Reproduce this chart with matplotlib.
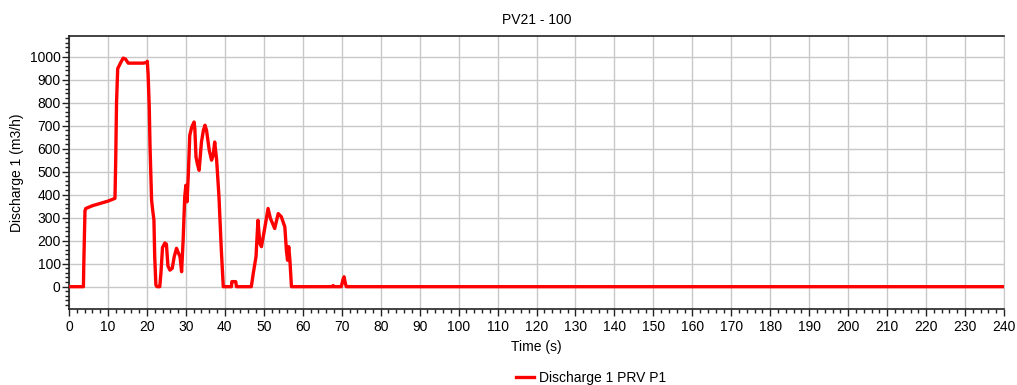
import numpy as np
import matplotlib as mpl
mpl.use('Agg')
import matplotlib.pyplot as plt
from matplotlib.ticker import MultipleLocator

plt.rcParams['font.family'] = ['Liberation Sans', 'DejaVu Sans']

# discharge trace (time s, discharge m3/h)
time_s = [0, 3.7, 3.8, 4.1, 4.3, 6.0, 8.0, 10.0, 11.8, 12.0, 12.2, 12.5, 13.3, 13.9,
          14.5, 15.2, 17.0, 19.0, 20.0, 20.1, 20.3, 20.6, 20.8, 21.2, 21.5, 21.8,
          22.0, 22.3, 22.6, 23.3, 23.6, 24.0, 24.6, 25.0, 25.4, 25.9, 26.5, 27.0,
          27.6, 28.0, 28.5, 28.9, 29.3, 29.7, 30.0, 30.3, 30.6, 31.0, 31.5, 32.1,
          32.3, 32.6, 33.0, 33.4, 34.0, 34.5, 34.9, 35.3, 36.0, 36.6, 37.0, 37.4,
          37.9, 38.5, 39.1, 39.6, 41.7, 41.8, 42.8, 43.0, 46.8, 47.3, 48.0, 48.5,
          49.0, 49.4, 50.3, 51.1, 51.7, 52.8, 53.7, 54.5, 55.4, 55.8, 56.1, 56.4,
          56.7, 57.1, 67.6, 67.8, 68.0, 69.9, 70.3, 70.6, 71.0, 71.2, 240]
discharge = [0, 0, 100, 330, 340, 352, 362, 372, 384, 560, 800, 948, 975, 994,
             990, 972, 972, 972, 975, 980, 926, 781, 608, 376, 330, 290,
             130, 7, 0, 0, 60, 170, 190, 185, 90, 72, 80, 130,
             167, 150, 130, 65, 203, 390, 441, 369, 477, 658, 694, 716,
             687, 564, 530, 506, 629, 680, 702, 680, 593, 550, 571, 629,
             550, 390, 159, 0, 0, 22, 22, 0, 0, 58, 130, 289,
             188, 174, 260, 340, 297, 253, 318, 304, 260, 159, 115, 174,
             116, 0, 0, 5, 0, 0, 30, 43, 10, 0, 0]

title = 'PV21 - 100'
x_label = 'Time (s)'
y_label = 'Discharge 1 (m3/h)'
series_name = 'Discharge 1 PRV P1'

fig = plt.figure(figsize=(10.17, 3.85), dpi=100)
ax = fig.add_axes([69/1017, 1-309/385, 935/1017, 273/385])

ax.plot(time_s, discharge, color='#ff0000', lw=2.4, label=series_name,
        solid_joinstyle='round', zorder=3)

ax.set_xlim(0, 240)
ax.set_ylim(-97, 1090)
ax.xaxis.set_major_locator(MultipleLocator(10))
ax.xaxis.set_minor_locator(MultipleLocator(2))
ax.yaxis.set_major_locator(MultipleLocator(100))
ax.yaxis.set_minor_locator(MultipleLocator(20))
ax.set_yticks(np.arange(0, 1001, 100))

ax.grid(True, which='major', color='#c8c8c8', lw=1.0, zorder=0)
ax.tick_params(which='major', direction='out', length=5, width=1, labelsize=10,
               pad=1, color='#222222')
ax.tick_params(axis='x', which='major', pad=3)
ax.tick_params(which='minor', direction='out', length=3, width=1, color='#222222')

for s in ['left', 'bottom', 'top']:
    ax.spines[s].set_color('#222222')
    ax.spines[s].set_linewidth(1.2)
ax.spines['right'].set_color('#c8c8c8')

ax.set_title(title, fontsize=10, pad=9)
ax.set_xlabel(x_label, fontsize=10, labelpad=4)
ax.set_ylabel(y_label, fontsize=10, labelpad=4)

fig.legend(loc='center', bbox_to_anchor=(591/1017, 1-378/385), frameon=False,
           fontsize=10, handlelength=1.3, handletextpad=0.4)

plt.savefig('out.png', dpi=100)
